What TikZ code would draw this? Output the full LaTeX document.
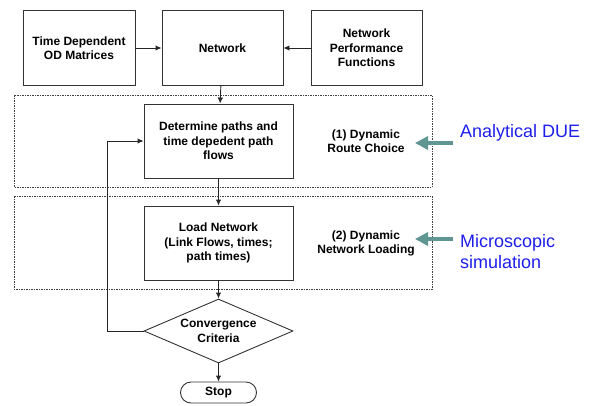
\documentclass[tikz,border=0pt]{standalone}
\usepackage{fontspec}
\setmainfont{Liberation Sans}
\usetikzlibrary{shapes.geometric,arrows.meta}
\definecolor{duecyan}{RGB}{95,150,145}
\definecolor{dueblue}{RGB}{30,30,235}
\begin{document}
\begin{tikzpicture}[x=1pt,y=-1pt,
        box/.style={draw=black!80, line width=0.9pt, align=center, inner sep=2pt,
            font=\fontsize{12}{14.5}\selectfont\bfseries},
        flow/.style={-{Latex[length=6pt,width=5.5pt]}, line width=0.9pt, draw=black!85},
        group/.style={draw=black!75, line width=0.7pt, dash pattern=on 1.5pt off 1pt},
        tag/.style={align=center, font=\fontsize{12}{14}\selectfont\bfseries},
        note/.style={align=left, anchor=west, inner sep=0pt, text=dueblue,
            font=\fontsize{18}{21}\selectfont},
        hint/.style={-{Triangle[length=13pt,width=13pt]}, line width=4.5pt, duecyan}]
        \useasboundingbox (0,0) rectangle (591,405);
        % inputs
        \node[box, minimum width=112pt, minimum height=75pt] (od) at (79,48) {Time Dependent\\OD Matrices};
        \node[box, minimum width=121pt, minimum height=75pt] (net) at (222.5,48) {Network};
        \node[box, minimum width=111pt, minimum height=75pt] (npf) at (366.5,48) {Network\\Performance\\Functions};
        % the two stages
        \draw[group] (14,95) rectangle (432,187);
        \draw[group] (14,196) rectangle (432,289);
        \node[box, minimum width=149pt, minimum height=74pt] (paths) at (218.5,141) {Determine paths and\\time depedent path\\flows};
        \node[box, minimum width=149pt, minimum height=74pt] (load) at (218.5,243) {Load Network\\(Link Flows, times;\\path times)};
        \node[tag] (choice) at (366,141) {(1) Dynamic\\Route Choice};
        \node[tag] (loading) at (366,243) {(2) Dynamic\\Network Loading};
        % test and end
        \node[box, shape=diamond, aspect=2.3, inner sep=0pt, minimum width=149pt, minimum height=64pt] (conv) at (218.5,331) {Convergence\\Criteria};
        \node[box, rounded corners=10.5pt, minimum width=76pt, minimum height=21pt, inner sep=0pt] (stop) at (218.5,392.5) {Stop};
        \draw[flow] (od) -- (net);
        \draw[flow] (npf) -- (net);
        \draw[flow] (net) -- (paths);
        \draw[flow] (paths) -- (load);
        \draw[flow] (load) -- (conv);
        \draw[flow] (conv) -- (stop);
        \coordinate (back) at (107,331);
        \draw[flow] (conv.west) -- (back) |- (paths.west);
        % methods
        \node[note] (due) at (460,133) {Analytical DUE};
        \node[note] (micro) at (460,251.5) {Microscopic\\simulation};
        \coordinate (dueTail) at (453,143);
        \coordinate (dueTip) at (415,143);
        \coordinate (microTail) at (453,239);
        \coordinate (microTip) at (415,239);
        \draw[hint] (dueTail) -- (dueTip);
        \draw[hint] (microTail) -- (microTip);
    \end{tikzpicture}
\end{document}
